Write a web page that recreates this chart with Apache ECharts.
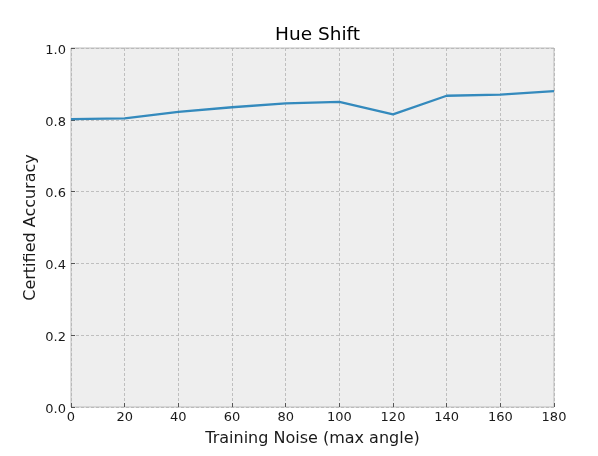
<!DOCTYPE html>
<html>
<head>
<meta charset="utf-8">
<script src="https://cdn.jsdelivr.net/npm/echarts@6/dist/echarts.min.js"></script>
<style>html,body{margin:0;padding:0;background:#fff}#c{width:598px;height:456px}</style>
</head>
<body>
<div id="c"></div>
<script>
const noise = [0, 20, 40, 60, 80, 100, 120, 140, 160, 180];
const accuracy = [0.802, 0.804, 0.822, 0.835, 0.846, 0.850, 0.815, 0.867, 0.870, 0.880];
const title = "Hue Shift";
const xName = "Training Noise (max angle)";
const yName = "Certified Accuracy";

const chart = echarts.init(document.getElementById('c'), null, {renderer: 'canvas'});
const font = "DejaVu Sans";
chart.setOption({
  backgroundColor: '#ffffff',
  animation: false,
  title: {
    text: title, left: 312.5, textAlign: 'center', top: 21,
    textStyle: {fontFamily: font, fontSize: 18.5, fontWeight: 'normal', color: '#000'}
  },
  grid: {left: 71, right: 44, top: 48, bottom: 49, show: true,
    backgroundColor: '#eeeeee', borderColor: '#bcbcbc', borderWidth: 1},
  xAxis: {
    type: 'value', min: 0, max: 180, interval: 20,
    name: xName, nameLocation: 'middle', nameGap: 24, nameMoveOverlap: false,
    nameTextStyle: {fontFamily: font, fontSize: 16, color: '#1a1a1a'},
    axisLine: {show: false},
    axisTick: {show: true, inside: true, length: 4, lineStyle: {color: '#555', width: 1}},
    axisLabel: {fontFamily: font, fontSize: 13, color: '#1a1a1a', margin: 4},
    splitLine: {show: true, lineStyle: {color: '#b2b2b2', type: [3, 2], width: 0.8}}
  },
  yAxis: {
    type: 'value', min: 0, max: 1, interval: 0.2,
    name: yName, nameLocation: 'middle', nameGap: 32, nameMoveOverlap: false,
    nameTextStyle: {fontFamily: font, fontSize: 16, color: '#1a1a1a'},
    axisLine: {show: false},
    axisTick: {show: true, inside: true, length: 4, lineStyle: {color: '#555', width: 1}},
    axisLabel: {fontFamily: font, fontSize: 13, color: '#1a1a1a', margin: 5,
      formatter: v => '{a|' + v.toFixed(1) + '}',
      rich: {a: {fontFamily: font, fontSize: 13, color: '#1a1a1a', padding: [5, 0, 0, 0]}}},
    splitLine: {show: true, lineStyle: {color: '#b2b2b2', type: [3, 2], width: 0.8}}
  },
  series: [{
    type: 'line', data: noise.map((x, i) => [x, accuracy[i]]),
    showSymbol: false, lineStyle: {color: '#348ABD', width: 2.3},
    itemStyle: {color: '#348ABD'}
  }]
});
</script>
</body>
</html>
